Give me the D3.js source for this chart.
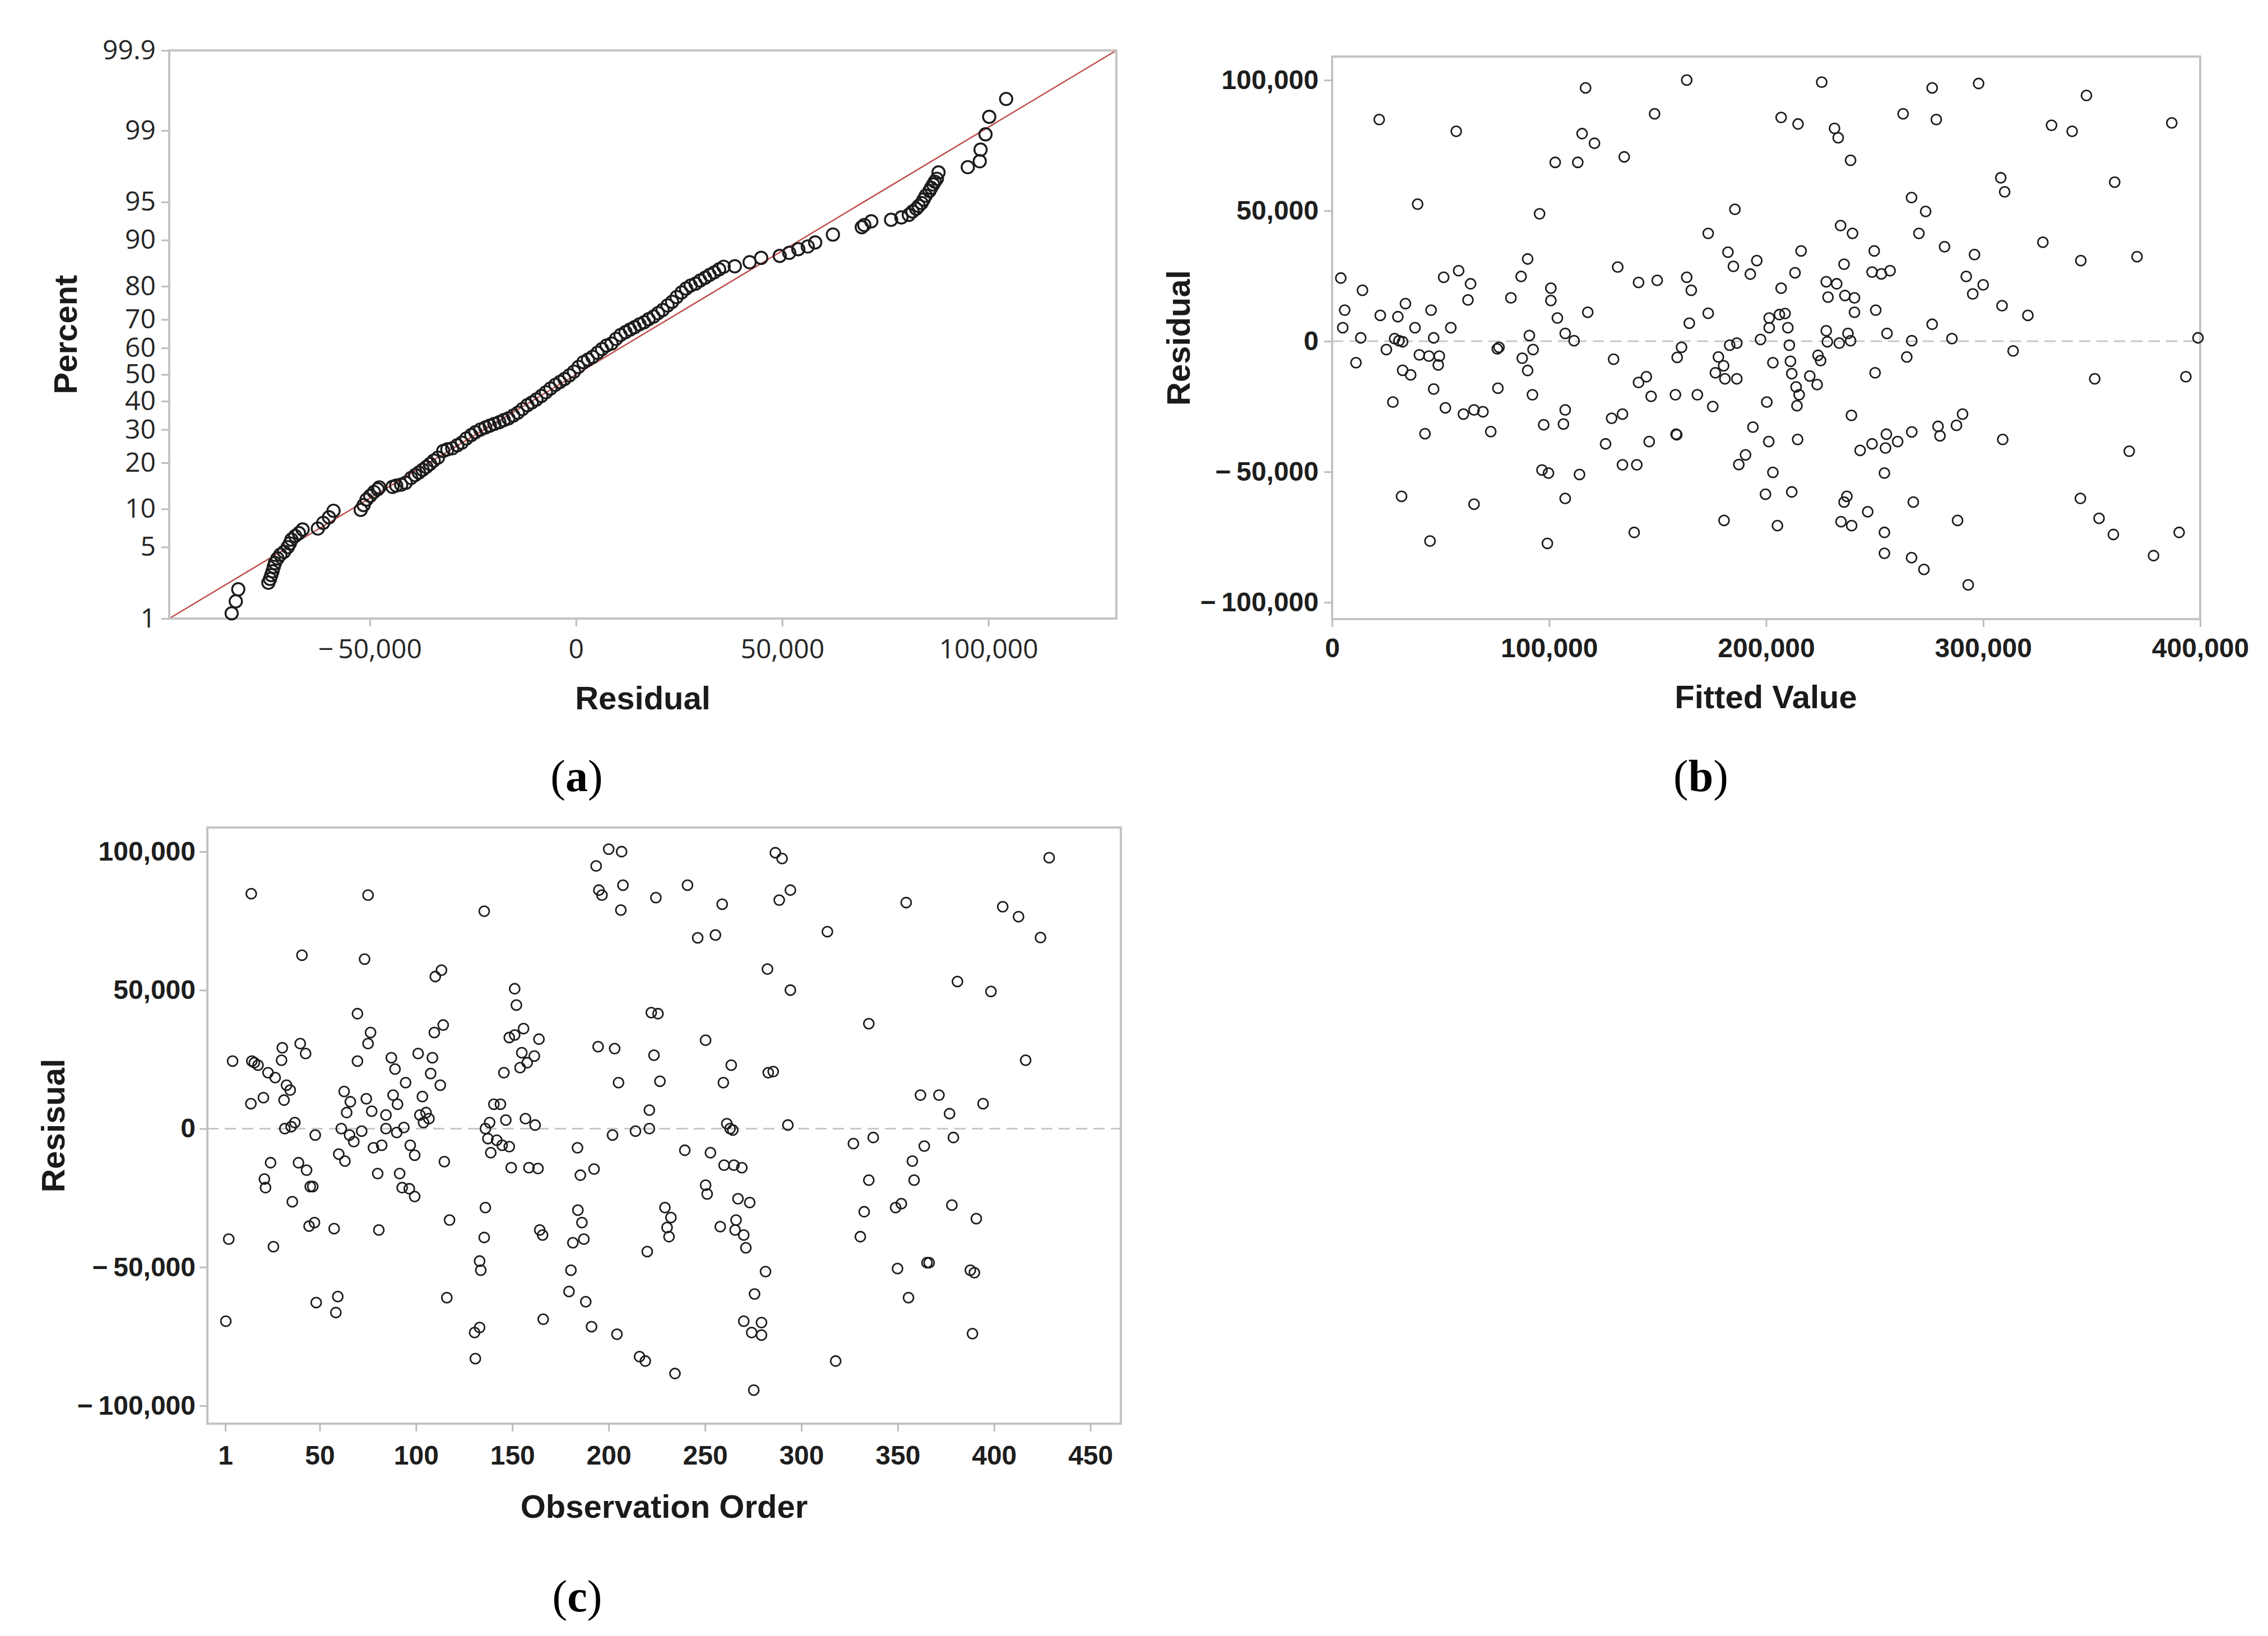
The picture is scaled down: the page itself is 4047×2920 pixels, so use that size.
<!DOCTYPE html>
<html>
<head>
<meta charset="utf-8">
<script src="https://cdn.jsdelivr.net/npm/d3@7"></script>
<style>
  body { margin: 0; background: #fff; }
  .tick-a text { font-family: "Open Sans", "Noto Sans", sans-serif; font-size: 48px; fill: #262626; }
  .tick-b text { font-family: "Liberation Sans", Arial, sans-serif; font-weight: bold; font-size: 48px; fill: #1e1e1e; }
  .tick line { stroke: #bdbdbd; stroke-width: 3; }
  .axis-title { font-family: "Liberation Sans", Arial, sans-serif; font-weight: bold; font-size: 58px; fill: #1a1a1a; }
  .panel-label { font-family: "Liberation Serif", "DejaVu Serif", serif; font-size: 80px; fill: #000; }
</style>
</head>
<body>
<div id="chart"></div>
<script>

var svgWidth = 4047;
var svgHeight = 2920;

// ---- data (residuals in thousands) ----

// (a) normal probability plot: [residual, percent]
var probPoints = [
  [-83.5, 1.14], [-82.5, 1.53], [-81.9, 2.03],
  [-74.6, 2.36], [-74.2, 2.57], [-73.9, 2.79], [-73.6, 3.03], [-73.3, 3.34], [-73.0, 3.62],
  [-72.4, 3.98], [-71.7, 4.30], [-70.8, 4.55], [-69.9, 4.99], [-69.4, 5.37], [-69.0, 5.78],
  [-68.1, 6.19], [-67.2, 6.53], [-66.3, 6.98],
  [-62.6, 7.10], [-61.3, 7.87], [-59.9, 8.68], [-58.8, 9.70],
  [-52.2, 9.85], [-51.5, 10.66], [-50.8, 11.66], [-49.9, 12.38], [-49.0, 13.14], [-48.1, 13.70], [-47.7, 14.10],
  [-44.5, 14.2], [-43.6, 14.5], [-42.4, 14.7], [-41.3, 15.1], [-40.0, 16.2], [-39.0, 16.9], [-38.1, 17.5],
  [-37.2, 18.2], [-36.3, 18.9], [-35.4, 19.7], [-34.5, 20.6], [-33.5, 21.4], [-32.2, 23.3], [-31.2, 23.8],
  [-30.0, 24.1], [-28.8, 25.0], [-27.7, 25.8], [-26.6, 27.1], [-25.4, 28.2], [-24.4, 29.1], [-23.2, 30.0],
  [-22.0, 30.7], [-20.9, 31.3], [-19.8, 31.9], [-18.6, 32.5], [-17.5, 33.2], [-16.4, 33.8], [-15.2, 34.8],
  [-14.1, 35.8], [-13.0, 37.1], [-11.8, 38.5], [-10.7, 39.5], [-9.6, 40.6], [-8.4, 41.9], [-7.3, 43.3],
  [-6.2, 44.7], [-5.0, 46.1], [-3.9, 47.2], [-2.8, 48.3], [-1.6, 49.7], [-0.5, 51.1], [0.6, 52.9],
  [1.8, 54.7], [2.9, 55.7], [4.0, 56.7], [5.2, 58.2], [6.3, 59.6], [7.4, 60.9], [8.6, 61.6], [9.7, 63.3],
  [10.8, 64.7], [12.0, 65.7], [13.1, 66.6], [14.2, 67.4], [15.4, 68.4], [16.5, 69.1], [17.6, 70.1],
  [18.8, 71.0], [19.9, 72.1], [21.0, 73.1], [22.2, 74.5], [23.3, 75.6], [24.4, 77.0], [25.6, 78.3],
  [26.7, 79.4], [27.8, 80.2], [29.0, 80.7], [30.1, 81.5], [31.3, 82.2], [32.4, 82.9], [33.5, 83.5],
  [34.7, 84.2], [35.8, 84.8], [38.5, 84.9], [42.1, 85.8], [44.9, 86.7], [49.4, 87.1], [51.7, 87.7],
  [53.9, 88.4], [56.2, 88.9], [58.0, 89.6], [62.3, 90.9], [69.3, 92.0], [69.9, 92.3], [71.6, 92.8],
  [76.4, 93.0], [78.9, 93.3], [80.7, 93.6], [81.6, 94.0], [82.5, 94.3], [83.1, 94.6], [83.8, 94.9],
  [84.3, 95.25], [84.8, 95.6], [85.7, 96.0], [86.1, 96.25], [86.6, 96.5], [87.0, 96.7], [87.5, 96.9],
  [87.9, 97.3], [95.0, 97.6], [97.9, 97.9], [98.1, 98.4], [99.3, 98.9], [100.2, 99.3], [104.3, 99.57]
];
// fitted normal line of panel (a)
var fitMean = 0;
var fitSD = 42.4;
var percentTicks = [1, 5, 10, 20, 30, 40, 50, 60, 70, 80, 90, 95, 99, 99.9];
var residualTicksA = [-50, 0, 50, 100];

// (b) versus fits: [fitted value, residual]
var fitsPoints = [
  [21.7, 84.9], [57.2, 80.4], [39.4, 52.5], [116.8, 97.0], [115.2, 79.5], [120.9, 75.8], [102.8, 68.5],
  [113.2, 68.5], [134.6, 70.6], [148.6, 87.1], [163.4, 100.0], [95.6, 48.8], [173.3, 41.3], [4.0, 24.2],
  [5.8, 11.9], [4.9, 5.2], [14.0, 19.5], [13.2, 1.3], [11.0, -8.2], [22.2, 9.9], [30.3, 9.4], [25.0, -3.2],
  [28.8, 1.0], [30.8, 0.2], [32.5, -0.2], [33.8, 14.4], [38.2, 5.2], [40.2, -5.2], [44.6, -5.7],
  [32.5, -11.1], [36.2, -12.9], [28.0, -23.3], [45.6, 11.9], [46.8, 1.3], [49.4, -5.7], [48.9, -9.1],
  [46.8, -18.3], [42.8, -35.4], [51.4, 24.5], [58.3, 27.0], [63.8, 22.0], [62.6, 15.8], [54.7, 5.2],
  [52.2, -25.5], [60.5, -27.9], [65.4, -26.3], [69.5, -27.0], [73.1, -34.6], [76.1, -2.9], [76.9, -2.3],
  [76.4, -18.0], [82.4, 16.6], [87.1, 24.8], [90.1, 31.5], [90.9, 2.2], [92.6, -3.2], [87.6, -6.5],
  [90.1, -11.2], [92.3, -20.5], [97.5, -32.0], [100.8, 20.3], [100.8, 15.6], [103.8, 8.9], [107.4, 3.0],
  [111.5, 0.2], [107.4, -26.3], [106.6, -31.7], [117.8, 11.1], [96.7, -49.3], [99.7, -50.5], [114.0, -51.0],
  [107.4, -60.2], [32.0, -59.4], [65.4, -62.4], [45.1, -76.5], [99.2, -77.4], [131.6, 28.4], [129.7, -6.9],
  [128.8, -29.5], [133.8, -27.9], [126.0, -39.3], [133.8, -47.3], [140.4, -47.3], [139.2, -73.2],
  [141.2, 22.5], [149.8, 23.3], [141.2, -15.8], [144.8, -13.6], [147.0, -21.1], [146.1, -38.4],
  [158.5, -35.6], [158.8, -35.8], [158.2, -20.5], [159.0, -6.2], [161.0, -2.3], [164.6, 6.9], [163.4, 24.5],
  [165.5, 19.5], [168.3, -20.5], [173.3, 10.7],
  [225.6, 99.2], [206.9, 85.7], [214.7, 83.2], [231.5, 81.5], [233.2, 77.9], [238.9, 69.3], [263.1, 87.1],
  [276.5, 97.0], [278.4, 84.9], [297.9, 98.7], [331.5, 82.7], [341.0, 80.4], [347.6, 94.1], [386.9, 83.6],
  [308.1, 62.6], [309.9, 57.2], [360.6, 60.9], [185.6, 50.5], [267.0, 55.0], [273.5, 49.7], [270.4, 41.3],
  [234.3, 44.3], [239.8, 41.3], [282.2, 36.2], [296.0, 33.2], [327.5, 37.9], [345.0, 30.9], [370.9, 32.4],
  [182.4, 34.1], [184.9, 28.7], [195.7, 30.9], [192.7, 25.7], [216.1, 34.6], [213.3, 26.2], [206.9, 20.3],
  [235.9, 29.5], [249.8, 34.6], [248.8, 26.5], [253.1, 25.8], [257.1, 27.0], [227.7, 22.8], [232.5, 22.0],
  [228.5, 16.9], [236.3, 17.5], [240.7, 16.6], [240.7, 11.1], [250.5, 11.9], [292.2, 24.8], [300.0, 21.6],
  [295.2, 18.1], [308.7, 13.6], [320.6, 9.9], [276.5, 6.5], [285.6, 1.0], [399.0, 1.3], [313.8, -3.7],
  [201.4, 8.9], [206.1, 10.2], [208.7, 10.6], [210.0, 5.2], [201.4, 5.2], [197.4, 0.7], [183.2, -1.5],
  [186.5, -0.7], [178.0, -6.0], [180.4, -9.4], [176.6, -12.1], [181.0, -14.4], [186.5, -14.4], [175.4, -25.0],
  [203.1, -8.2], [210.7, -1.5], [211.2, -7.7], [211.8, -12.4], [213.8, -17.5], [215.2, -20.5], [214.2, -24.7],
  [200.3, -23.3], [220.1, -13.3], [223.5, -16.6], [223.9, -5.4], [225.1, -7.4], [227.7, 4.0], [228.2, -0.2],
  [233.7, -0.7], [237.7, 3.0], [238.9, 0.2], [255.7, 3.0], [267.1, 0.2], [264.8, -6.0], [250.2, -12.1],
  [239.3, -28.4], [214.5, -37.6], [201.2, -38.4], [193.9, -32.9], [190.5, -43.5], [187.4, -47.2],
  [203.1, -50.2], [199.7, -58.6], [211.8, -57.7], [180.6, -68.6], [205.2, -70.6], [237.2, -59.4],
  [235.9, -61.6], [234.5, -69.1], [239.4, -70.6], [246.8, -65.3], [243.3, -41.8], [248.8, -39.3],
  [255.4, -35.6], [255.0, -40.9], [260.6, -38.4], [267.1, -34.7], [254.5, -50.5], [267.8, -61.6],
  [254.5, -73.2], [254.5, -81.2], [267.0, -82.9], [272.7, -87.4], [279.2, -32.6], [280.1, -36.2],
  [287.7, -32.2], [290.5, -27.9], [288.2, -68.6], [293.1, -93.3], [309.0, -37.6], [351.4, -14.4],
  [393.4, -13.6], [367.3, -42.1], [344.8, -60.2], [353.4, -67.8], [360.0, -74.0], [378.5, -82.1], [390.3, -73.2]
];
var fittedTicks = [0, 100, 200, 300, 400];
var residualTicksB = [-100, -50, 0, 50, 100];

// (c) versus order: [observation, residual]
var orderPoints = [
  [1.3, -69.5], [2.8, -39.9], [4.8, 24.4], [14.5, 84.8], [14.3, 9.0], [14.8, 24.4], [16.1, 23.8], [18.0, 22.9],
  [20.8, 11.2], [21.3, -18.2], [21.9, -21.3], [24.5, -12.3], [26.0, -42.6], [23.2, 20.2], [26.9, 18.4],
  [30.6, 29.2], [30.2, 24.7], [31.5, 10.3], [32.8, 15.7], [34.7, 13.9], [31.9, 0.0], [35.2, 0.7], [37.1, 2.2],
  [35.8, -26.4], [40.8, 62.6], [39.9, 30.7], [42.7, 27.1], [39.0, -12.3], [43.2, -15.0], [46.4, -20.9],
  [45.1, -20.9], [44.5, -35.2], [47.3, -33.9], [47.7, -2.3], [48.2, -62.8], [57.5, -36.1], [59.4, -60.6],
  [58.4, -66.4], [59.9, -9.2], [63.1, -11.7], [62.7, 13.4], [61.2, 0.0], [64.0, 5.8], [65.9, 9.7], [65.5, -2.3],
  [67.7, -4.7], [69.6, 41.5], [69.6, 24.4], [71.8, -0.9], [73.3, 61.2], [75.1, 84.3], [74.2, 10.8], [76.4, 34.7],
  [75.1, 30.7], [77.0, 6.3], [77.9, -6.9], [82.2, -6.0], [80.1, -16.2], [80.7, -36.6], [84.4, 0.0], [84.4, 4.9],
  [87.2, 25.6], [89.1, 21.5], [88.1, 12.1], [90.4, 8.8], [90.0, -1.4], [93.7, 0.4], [94.6, 16.6], [91.5, -16.2],
  [92.8, -21.3], [96.5, -21.7], [99.3, -24.5], [97.0, -6.0], [99.3, -9.6], [101.1, 27.1], [103.3, 11.6],
  [102.0, 4.9], [103.9, 2.2], [105.2, 5.8], [106.7, 3.6], [108.5, 25.6], [107.6, 19.9], [109.5, 34.7],
  [112.6, 15.7], [110.0, 54.9], [113.2, 57.2], [114.1, 37.4], [114.7, -11.9], [117.4, -33.0], [116.0, -61.0],
  [130.4, -73.6], [133.0, -71.8], [130.8, -83.0], [133.0, -47.8], [133.6, -51.1], [135.4, -39.3],
  [136.0, -28.5], [135.4, 78.5], [136.0, 0.0], [138.2, 2.2], [137.3, -3.6], [138.8, -8.7], [140.4, 8.8],
  [143.8, 8.8], [141.9, -4.2], [144.7, -6.0], [145.6, 20.2], [146.6, 3.1], [148.4, -6.5], [149.4, -14.1],
  [148.4, 32.9], [151.2, 33.8], [151.2, 50.5], [152.1, 44.6], [154.9, 27.4], [154.0, 22.0], [155.8, 36.1],
  [157.7, 23.8], [156.8, 3.6], [161.4, 26.2], [163.8, 32.3], [158.6, -14.1], [163.3, -14.4], [161.8, 1.3],
  [164.2, -36.6], [165.7, -38.4], [166.0, -68.8],
  [193.5, 94.8], [200.0, 100.9], [206.7, 100.0], [194.9, 86.1], [196.5, 84.3], [207.4, 87.9], [206.3, 78.9],
  [224.5, 83.4], [240.9, 87.9], [258.9, 81.0], [246.2, 68.9], [255.4, 69.9], [286.5, 99.6], [290.0, 97.5],
  [288.5, 82.5], [294.3, 86.1], [282.4, 57.6], [294.3, 50.0], [313.5, 71.1], [354.4, 81.6], [404.5, 80.1],
  [412.7, 76.5], [428.6, 97.8], [424.1, 69.0], [381.0, 53.1], [398.4, 49.5], [335.0, 37.9], [416.4, 24.7],
  [222.1, 41.9], [225.6, 41.5], [194.5, 29.6], [203.1, 28.9], [205.1, 16.6], [223.5, 26.5], [226.6, 17.1],
  [250.3, 31.9], [263.6, 22.9], [259.5, 16.6], [282.8, 20.2], [285.4, 20.6], [361.8, 12.1], [371.4, 12.1],
  [376.9, 5.4], [394.3, 9.0], [221.1, 6.7], [221.1, 0.0], [213.9, -0.9], [202.0, -2.3], [183.8, -6.9],
  [185.3, -16.8], [192.4, -14.6], [239.5, -7.8], [252.8, -8.7], [261.3, 1.8], [263.0, 0.0], [264.4, -0.5],
  [293.0, 1.3], [259.9, -13.2], [265.0, -13.2], [269.1, -14.1], [250.3, -20.4], [251.1, -23.6],
  [267.1, -25.3], [273.2, -26.7], [257.9, -35.4], [266.1, -33.0], [265.6, -36.6], [270.1, -38.4],
  [271.2, -43.0], [281.4, -51.6], [275.7, -59.7], [270.1, -69.5], [279.3, -70.0], [274.2, -73.6],
  [279.3, -74.5], [275.3, -94.4], [184.0, -29.4], [186.1, -33.9], [187.1, -39.9], [181.4, -41.2],
  [180.4, -51.1], [179.4, -58.8], [188.1, -62.5], [191.1, -71.5], [204.3, -74.2], [220.0, -44.4],
  [229.2, -28.5], [232.3, -32.1], [230.3, -35.7], [231.3, -39.0], [216.0, -82.3], [219.0, -83.9],
  [234.4, -88.4], [317.8, -83.9], [327.0, -5.4], [337.3, -3.2], [335.0, -18.6], [332.6, -30.0],
  [330.6, -39.0], [348.9, -28.5], [351.9, -27.1], [349.9, -50.5], [355.6, -61.0], [357.6, -11.7],
  [358.5, -18.6], [363.8, -6.3], [365.2, -48.4], [366.3, -48.4], [378.1, -27.6], [378.9, -3.2],
  [390.8, -32.5], [387.7, -51.1], [389.8, -52.0], [388.8, -74.0]
];
var orderTicks = [1, 50, 100, 150, 200, 250, 300, 350, 400, 450];
var residualTicksC = [-100, -50, 0, 50, 100];

// inverse of the standard normal CDF (for the probability axis)
function probit(p) {
  var a = [-3.969683028665376e+01, 2.209460984245205e+02, -2.759285104469687e+02, 1.383577518672690e+02, -3.066479806614716e+01, 2.506628277459239e+00];
  var b = [-5.447609879822406e+01, 1.615858368580409e+02, -1.556989798598866e+02, 6.680131188771972e+01, -1.328068155288572e+01];
  var c = [-7.784894002430293e-03, -3.223964580411365e-01, -2.400758277161838e+00, -2.549732539343734e+00, 4.374664141464968e+00, 2.938163982698783e+00];
  var d = [7.784695709041462e-03, 3.224671290700398e-01, 2.445134137142996e+00, 3.754408661907416e+00];
  var q, r;
  if (p < 0.02425) {
    q = Math.sqrt(-2 * Math.log(p));
    return (((((c[0] * q + c[1]) * q + c[2]) * q + c[3]) * q + c[4]) * q + c[5]) / ((((d[0] * q + d[1]) * q + d[2]) * q + d[3]) * q + 1);
  }
  if (p <= 1 - 0.02425) {
    q = p - 0.5; r = q * q;
    return (((((a[0] * r + a[1]) * r + a[2]) * r + a[3]) * r + a[4]) * r + a[5]) * q / (((((b[0] * r + b[1]) * r + b[2]) * r + b[3]) * r + b[4]) * r + 1);
  }
  q = Math.sqrt(-2 * Math.log(1 - p));
  return -(((((c[0] * q + c[1]) * q + c[2]) * q + c[3]) * q + c[4]) * q + c[5]) / ((((d[0] * q + d[1]) * q + d[2]) * q + d[3]) * q + 1);
}

// thousands formatter with a real minus sign
function fmtK(v) {
  var s = d3.format(",")(Math.abs(v) * 1000);
  return v < 0 ? "\u2212\u2009" + s : s;
}

var svg = d3.select("#chart")
  .append("svg")
  .attr("width", svgWidth)
  .attr("height", svgHeight)
  .style("background", "#fff");

// frame around a plot area, taken from the scale ranges
function drawFrame(x, y) {
  svg.append("rect")
    .attr("x", x.range()[0])
    .attr("y", y.range()[1])
    .attr("width", x.range()[1] - x.range()[0])
    .attr("height", y.range()[0] - y.range()[1])
    .attr("fill", "none")
    .attr("stroke", "#c4c4c4")
    .attr("stroke-width", 4);
}

function styleAxis(g, cls, labelY) {
  g.attr("class", cls);
  g.select(".domain").remove();
  if (labelY !== undefined) {
    g.selectAll("text").attr("dy", null).attr("y", labelY);
  }
}

function circles(data, xf, yf, r, sw) {
  svg.append("g")
    .selectAll("circle")
    .data(data)
    .enter()
    .append("circle")
    .attr("cx", xf)
    .attr("cy", yf)
    .attr("r", r)
    .attr("fill", "none")
    .attr("stroke", "#1c1c1c")
    .attr("stroke-width", sw);
}

// ================= (a) normal probability plot =================
var zMin = probit(0.01), zMax = probit(0.999);
var xA = d3.scaleLinear()
  .domain([fitMean + fitSD * zMin, fitMean + fitSD * zMax])
  .range([302, 1992]);
var yA = d3.scaleLinear()
  .domain([zMin, zMax])
  .range([1104, 90]);

// fitted line
svg.append("line")
  .attr("x1", xA(fitMean + fitSD * zMin)).attr("y1", yA(zMin))
  .attr("x2", xA(fitMean + fitSD * zMax)).attr("y2", yA(zMax))
  .attr("stroke", "#bf4c4c")
  .attr("stroke-width", 2.5);

drawFrame(xA, yA);

svg.append("g")
  .attr("transform", "translate(0,1104)")
  .call(d3.axisBottom(xA).tickValues(residualTicksA).tickSize(14).tickFormat(fmtK))
  .call(styleAxis, "tick-a", 71);

svg.append("g")
  .attr("transform", "translate(302,0)")
  .call(d3.axisLeft(yA)
    .tickValues(percentTicks.map(function(p) { return probit(p / 100); }))
    .tickSize(14).tickPadding(10)
    .tickFormat(function(z, i) { return String(percentTicks[i]); }))
  .call(styleAxis, "tick-a");

circles(probPoints, d => xA(d[0]), d => yA(probit(d[1] / 100)), 11, 3.4);

svg.append("text").attr("class", "axis-title")
  .attr("transform", "translate(137,597) rotate(-90)")
  .attr("text-anchor", "middle").text("Percent");
svg.append("text").attr("class", "axis-title")
  .attr("x", 1147).attr("y", 1266)
  .attr("text-anchor", "middle").text("Residual");

// ================= (b) versus fits =================
var xB = d3.scaleLinear().domain([0, 400]).range([2377, 3926]);
var yB = d3.scaleLinear().domain([-106.4, 109]).range([1105, 101]);

svg.append("line")
  .attr("x1", xB.range()[0]).attr("x2", xB.range()[1])
  .attr("y1", yB(0)).attr("y2", yB(0))
  .attr("stroke", "#c8c8c8").attr("stroke-width", 3)
  .attr("stroke-dasharray", "20 11");

drawFrame(xB, yB);

svg.append("g")
  .attr("transform", "translate(0,1105)")
  .call(d3.axisBottom(xB).tickValues(fittedTicks).tickSize(14).tickFormat(fmtK))
  .call(styleAxis, "tick-b", 68);

svg.append("g")
  .attr("transform", "translate(2377,0)")
  .call(d3.axisLeft(yB).tickValues(residualTicksB).tickSize(14).tickPadding(10).tickFormat(fmtK))
  .call(styleAxis, "tick-b");

circles(fitsPoints, d => xB(d[0]), d => yB(d[1]), 9, 2.8);

svg.append("text").attr("class", "axis-title")
  .attr("transform", "translate(2123,603) rotate(-90)")
  .attr("text-anchor", "middle").text("Residual");
svg.append("text").attr("class", "axis-title")
  .attr("x", 3151).attr("y", 1264)
  .attr("text-anchor", "middle").text("Fitted Value");

// ================= (c) versus order =================
var xC = d3.scaleLinear().domain([-8.3, 465.8]).range([370, 2000]);
var yC = d3.scaleLinear().domain([-106.5, 108.7]).range([2541, 1477]);

svg.append("line")
  .attr("x1", xC.range()[0]).attr("x2", xC.range()[1])
  .attr("y1", yC(0)).attr("y2", yC(0))
  .attr("stroke", "#c8c8c8").attr("stroke-width", 3)
  .attr("stroke-dasharray", "20 11");

drawFrame(xC, yC);

svg.append("g")
  .attr("transform", "translate(0,2541)")
  .call(d3.axisBottom(xC).tickValues(orderTicks).tickSize(14))
  .call(styleAxis, "tick-b", 73);

svg.append("g")
  .attr("transform", "translate(370,0)")
  .call(d3.axisLeft(yC).tickValues(residualTicksC).tickSize(14).tickPadding(7).tickFormat(fmtK))
  .call(styleAxis, "tick-b");

circles(orderPoints, d => xC(d[0]), d => yC(d[1]), 9, 2.8);

svg.append("text").attr("class", "axis-title")
  .attr("transform", "translate(115,2009) rotate(-90)")
  .attr("text-anchor", "middle").text("Resisual");
svg.append("text").attr("class", "axis-title")
  .attr("x", 1185).attr("y", 2709)
  .attr("text-anchor", "middle").text("Observation Order");

// ================= panel labels =================
[["a", 1029, 1412], ["b", 3035, 1412], ["c", 1030, 2876]].forEach(function(l) {
  var t = svg.append("text").attr("class", "panel-label")
    .attr("x", l[1]).attr("y", l[2]).attr("text-anchor", "middle");
  t.append("tspan").text("(");
  t.append("tspan").attr("font-weight", "bold").text(l[0]);
  t.append("tspan").text(")");
});

</script>
</body>
</html>
